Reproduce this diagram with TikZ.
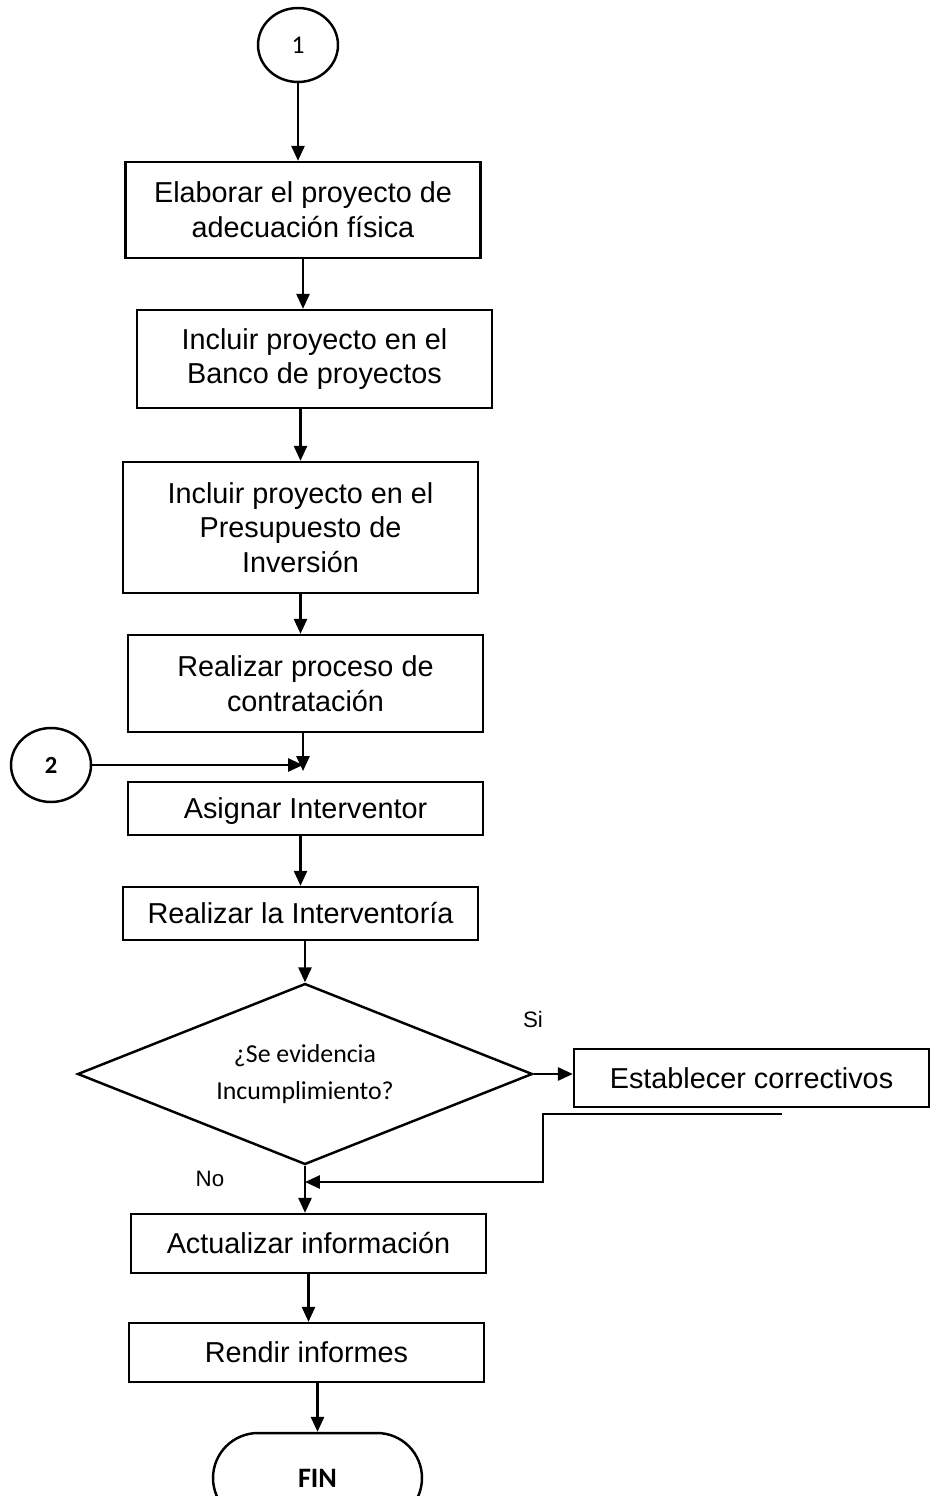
\documentclass[tikz,border=0pt]{standalone}
\usepackage{fontspec}
\setmainfont{Liberation Sans}
\newfontfamily\calibri{Carlito}
\usetikzlibrary{shapes.geometric, arrows.meta, calc}

\begin{document}
\begin{tikzpicture}[x=0.02cm, y=-0.02cm,
		caja/.style={draw, line width=1.4pt, minimum width=7.1cm, align=center, inner sep=2pt,
			font=\fontsize{16.4}{19.8}\selectfont},
		conector/.style={draw, ellipse, line width=1.4pt, minimum width=1.6cm, minimum height=1.48cm,
			inner sep=0pt, font=\calibri\fontsize{14.5}{17}\selectfont},
		flecha/.style={-{Triangle[length=8.5pt, width=7.5pt]}, line width=1.2pt},
		etiqueta/.style={font=\fontsize{12.7}{15}\selectfont}]
	% Bounding box
	\useasboundingbox (0,0) rectangle (931,1496);
	\clip (0,0) rectangle (931,1496);
	
	% Connectors
	\node[conector] (con1) at (298,45) {1};
	\node[conector, font=\calibri\bfseries\fontsize{14}{17}\selectfont] (con2) at (51,765) {2};
	
	% Steps
	\node[caja, minimum height=1.92cm] (elaborar) at (303,210) {Elaborar el proyecto de\\adecuación física};
	\node[caja, minimum height=1.96cm] (banco) at (314.5,359) {Incluir proyecto en el\\Banco de proyectos};
	\node[caja, minimum height=2.62cm] (presupuesto) at (300.5,527.5) {Incluir proyecto en el\\Presupuesto de\\Inversión};
	\node[caja, minimum height=1.94cm] (contratar) at (305.5,683.5) {Realizar proceso de\\contratación};
	\node[caja, minimum height=1.06cm, text depth=0pt] (asignar) at (305.5,808.5) {Asignar Interventor};
	\node[caja, minimum height=1.06cm] (interventoria) at (300.5,913.5) {Realizar la Interventoría};
	\node[draw, diamond, aspect=2.5, line width=1.4pt, minimum width=9.1cm, minimum height=3.62cm,
		inner sep=0pt, align=center, font=\calibri\fontsize{14.7}{21.5}\selectfont]
		(decision) at (305,1074) {¿Se evidencia\\Incumplimiento?};
	\node[caja, minimum height=1.16cm] (correctivos) at (751.5,1078) {Establecer correctivos};
	\node[caja, minimum height=1.18cm] (actualizar) at (308.5,1243.5) {Actualizar información};
	\node[caja, minimum height=1.18cm] (rendir) at (306.5,1352.5) {Rendir informes};
	\node[draw, line width=1.4pt, rounded corners=0.9cm, minimum width=4.18cm, minimum height=1.8cm,
		font=\calibri\bfseries\fontsize{16}{19}\selectfont] (fin) at (317.5,1478) {FIN};
	
	% Labels
	\node[etiqueta] (si) at (533,1020) {Si};
	\node[etiqueta] (no) at (210,1179) {No};
	
	% Arrows
	\coordinate (junta) at (303,771);
	\coordinate (retorno) at (782,1114);
	\coordinate (codo) at (543,1182);
	\draw[flecha] (con1.south) -- (con1.south |- elaborar.north);
	\draw[flecha] (elaborar.south) -- (elaborar.south |- banco.north);
	\draw[flecha] (presupuesto.north |- banco.south) -- (presupuesto.north);
	\draw[flecha] (presupuesto.south) -- (presupuesto.south |- contratar.north);
	\draw[flecha] (junta |- contratar.south) -- (junta);
	\draw[flecha] (con2.east) -- (con2.east -| junta);
	\draw[flecha] (interventoria.north |- asignar.south) -- (interventoria.north);
	\draw[flecha] (decision.north |- interventoria.south) -- (decision.north);
	\draw[flecha] (decision.east) -- (decision.east -| correctivos.west);
	\draw[flecha] (retorno) -| (codo) -- (codo -| decision.south);
	\draw[flecha] (decision.south) -- (decision.south |- actualizar.north);
	\draw[flecha] (actualizar.south) -- (actualizar.south |- rendir.north);
	\draw[flecha] (fin.north |- rendir.south) -- (fin.north);
\end{tikzpicture}
\end{document}
